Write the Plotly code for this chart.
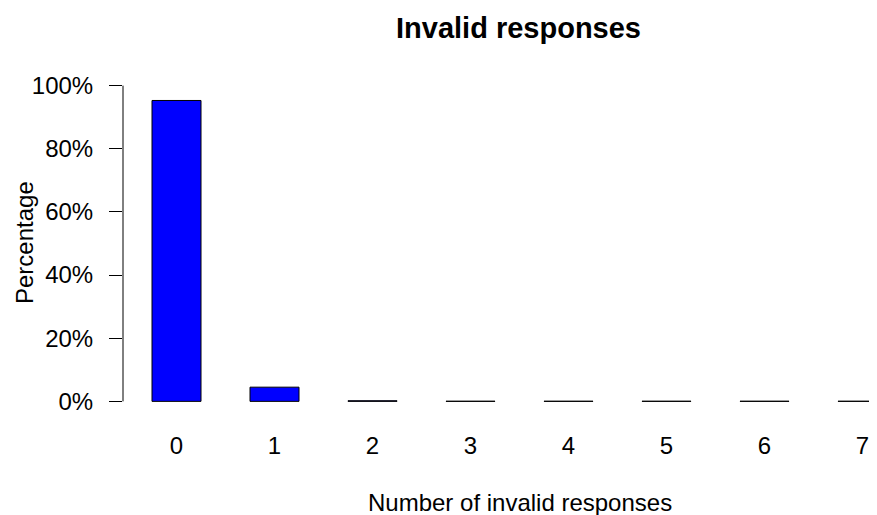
import plotly.graph_objects as go

categories = ["0", "1", "2", "3", "4", "5", "6", "7"]
percentages = [95.3, 4.5, 0.2, 0.05, 0.05, 0.05, 0.05, 0.05]
y_ticks = [0, 20, 40, 60, 80, 100]
y_tick_labels = ["0%", "20%", "40%", "60%", "80%", "100%"]

# page has an 8px body margin: work in page pixels and subtract it
OFF = 8
PAGE_W, PAGE_H = 877, 515
W, H = PAGE_W - OFF, PAGE_H - OFF
plot_left, plot_right = 123 - OFF, PAGE_W - OFF
plot_top, plot_bottom = 73 - OFF, 414 - OFF
L, R, T, B = plot_left, W - plot_right, plot_top, H - plot_bottom
pw, ph = plot_right - plot_left, plot_bottom - plot_top

def px_x(p):
    return (p - OFF - plot_left) / pw

def px_y(p):
    return (plot_bottom - (p - OFF)) / ph

FONT = "Liberation Sans, Arial, sans-serif"

fig = go.Figure()
fig.add_trace(go.Bar(
    x=list(range(len(categories))),
    y=percentages,
    width=0.5,
    marker=dict(color="#0000FF", line=dict(color="black", width=1)),
    hoverinfo="skip",
))

fig.update_layout(
    width=W, height=H,
    margin=dict(l=L, r=R, t=T, b=B, pad=0),
    plot_bgcolor="white", paper_bgcolor="white",
    showlegend=False,
    font=dict(family=FONT, size=24, color="black"),
    xaxis=dict(
        range=[-0.546, 7.148],
        tickmode="array",
        tickvals=list(range(len(categories))),
        ticktext=categories,
        showgrid=False, zeroline=False, showline=False,
        ticks="",
        ticklabelstandoff=15,
        tickfont=dict(size=24),
    ),
    yaxis=dict(
        range=[-4, 104],
        tickmode="array",
        tickvals=y_ticks,
        ticktext=y_tick_labels,
        showgrid=False, zeroline=False, showline=False,
        ticks="outside", ticklen=13, tickwidth=1, tickcolor="black",
        ticklabelstandoff=11,
        tickfont=dict(size=24),
    ),
    shapes=[dict(type="line", xref="paper", yref="y", x0=0, x1=0,
                 y0=y_ticks[0], y1=y_ticks[-1],
                 line=dict(color="black", width=1))],
    annotations=[
        dict(text="<b>Invalid responses</b>", xref="paper", yref="paper",
             x=px_x(519), y=px_y(28), xanchor="center", yanchor="middle",
             showarrow=False, font=dict(size=29)),
        dict(text="Number of invalid responses", xref="paper", yref="paper",
             x=px_x(520), y=px_y(502), xanchor="center", yanchor="middle",
             showarrow=False, font=dict(size=24)),
        dict(text="Percentage", xref="paper", yref="paper",
             x=px_x(24), y=px_y(243), xanchor="center", yanchor="middle",
             textangle=-90, showarrow=False, font=dict(size=24)),
    ],
)

fig.write_html("out.html")
